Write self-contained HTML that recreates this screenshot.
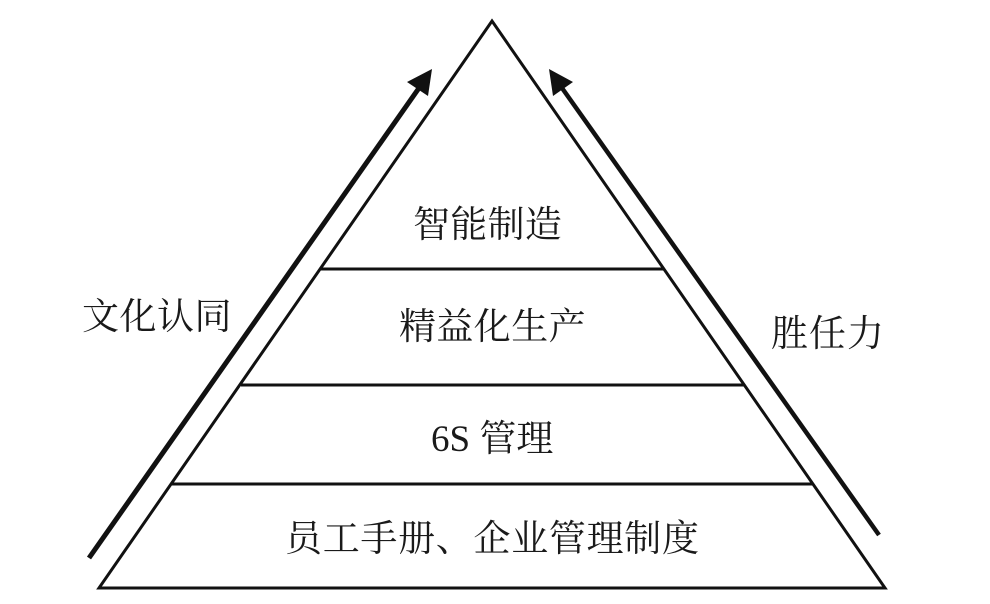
<!DOCTYPE html>
<html>
<head>
<meta charset="utf-8">
<style>
html,body{margin:0;padding:0;background:#fff;width:990px;height:604px;overflow:hidden}
svg{display:block}
text{font-family:"Liberation Serif","Noto Serif CJK SC",serif;font-size:37px;fill:#1a1a1a}
</style>
</head>
<body>
<svg width="990" height="604" viewBox="0 0 990 604">
<polygon points="492,21 885,588 99,588" fill="none" stroke="#111" stroke-width="3"/>
<line x1="321" y1="269" x2="664" y2="269" stroke="#111" stroke-width="3"/>
<line x1="241" y1="385" x2="744" y2="385" stroke="#111" stroke-width="3"/>
<line x1="172" y1="484" x2="813" y2="484" stroke="#111" stroke-width="3"/>
<line x1="89" y1="558" x2="419" y2="88" stroke="#111" stroke-width="5"/>
<polygon points="432,69 428,96 407,82" fill="#111"/>
<line x1="879" y1="535" x2="562" y2="88" stroke="#111" stroke-width="4.5"/>
<polygon points="549,69 573,82 553,96" fill="#111"/>
<text x="413" y="237" letter-spacing="0.3">智能制造</text>
<text x="399" y="339" letter-spacing="0.4">精益化生产</text>
<text x="431" y="451">6S 管理</text>
<text x="285" y="551" letter-spacing="0.7">员工手册、企业管理制度</text>
<text x="82" y="329" letter-spacing="0.5">文化认同</text>
<text x="771" y="346" letter-spacing="1">胜任力</text>
</svg>
</body>
</html>
